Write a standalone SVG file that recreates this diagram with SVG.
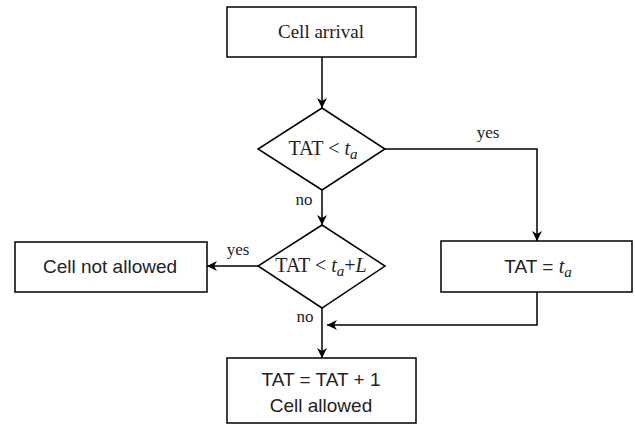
<svg xmlns="http://www.w3.org/2000/svg" width="635" height="426" viewBox="0 0 635 426">
<defs>
<marker id="arr" viewBox="0 0 10 10" refX="10" refY="5" markerWidth="10" markerHeight="10" markerUnits="userSpaceOnUse" orient="auto">
<path d="M0,0 L10,5 L0,10 L3,5 Z" fill="#000"/>
</marker>
</defs>
<style>
.shape{fill:#fff;stroke:#000;stroke-width:1.5}
.edge{fill:none;stroke:#000;stroke-width:1.5;marker-end:url(#arr)}
.serif{font-family:"Liberation Serif","Times New Roman",serif;fill:#222}
.sans{font-family:"Liberation Sans",Arial,sans-serif;fill:#222}
.lbl{font-family:"Liberation Serif","Times New Roman",serif;font-size:17px;fill:#222}
</style>
<rect width="635" height="426" fill="#fff"/>
<g id="connectors">
<path class="edge" d="M322,57 L322,108"/>
<path class="edge" d="M322,190 L322,225"/>
<path class="edge" d="M385,149 L537,149 L537,241"/>
<path class="edge" d="M258,266 L207,266"/>
<path class="edge" d="M322,308 L322,358"/>
<path class="edge" d="M537,292 L537,325 L327,325"/>
<text class="lbl" x="488" y="138" text-anchor="middle">yes</text>
<text class="lbl" x="304" y="205" text-anchor="middle">no</text>
<text class="lbl" x="238" y="255" text-anchor="middle">yes</text>
<text class="lbl" x="305" y="322" text-anchor="middle">no</text>
</g>
<g id="cell-arrival">
<rect class="shape" x="227" y="7" width="189" height="50"/>
<text class="serif" x="321" y="38" font-size="19" text-anchor="middle">Cell arrival</text>
</g>
<g id="decision1">
<path class="shape" d="M322,108 L385,149 L322,190 L258,149 Z"/>
<text class="serif" x="323" y="155" font-size="20" text-anchor="middle">TAT &lt; <tspan font-style="italic">t</tspan><tspan font-style="italic" font-size="15" dy="4">a</tspan></text>
</g>
<g id="decision2">
<path class="shape" d="M322,225 L385,266 L322,308 L258,266 Z"/>
<text class="serif" x="321" y="272" font-size="20" text-anchor="middle">TAT &lt; <tspan font-style="italic">t</tspan><tspan font-style="italic" font-size="15" dy="4">a</tspan><tspan dy="-4">+</tspan><tspan font-style="italic">L</tspan></text>
</g>
<g id="cell-not-allowed">
<rect class="shape" x="15" y="242" width="192" height="50"/>
<text class="sans" x="110" y="273" font-size="19" text-anchor="middle">Cell not allowed</text>
</g>
<g id="tat-ta">
<rect class="shape" x="441" y="241" width="191" height="51"/>
<text class="sans" x="538" y="273" font-size="19" text-anchor="middle">TAT = <tspan class="serif" font-style="italic" font-size="20">t</tspan><tspan class="serif" font-style="italic" font-size="15" dy="4">a</tspan></text>
</g>
<g id="cell-allowed">
<rect class="shape" x="227" y="358" width="189" height="65"/>
<text class="sans" x="321" y="386" font-size="19" text-anchor="middle">TAT = TAT + 1</text>
<text class="sans" x="321" y="412" font-size="19" text-anchor="middle">Cell allowed</text>
</g>
</svg>
